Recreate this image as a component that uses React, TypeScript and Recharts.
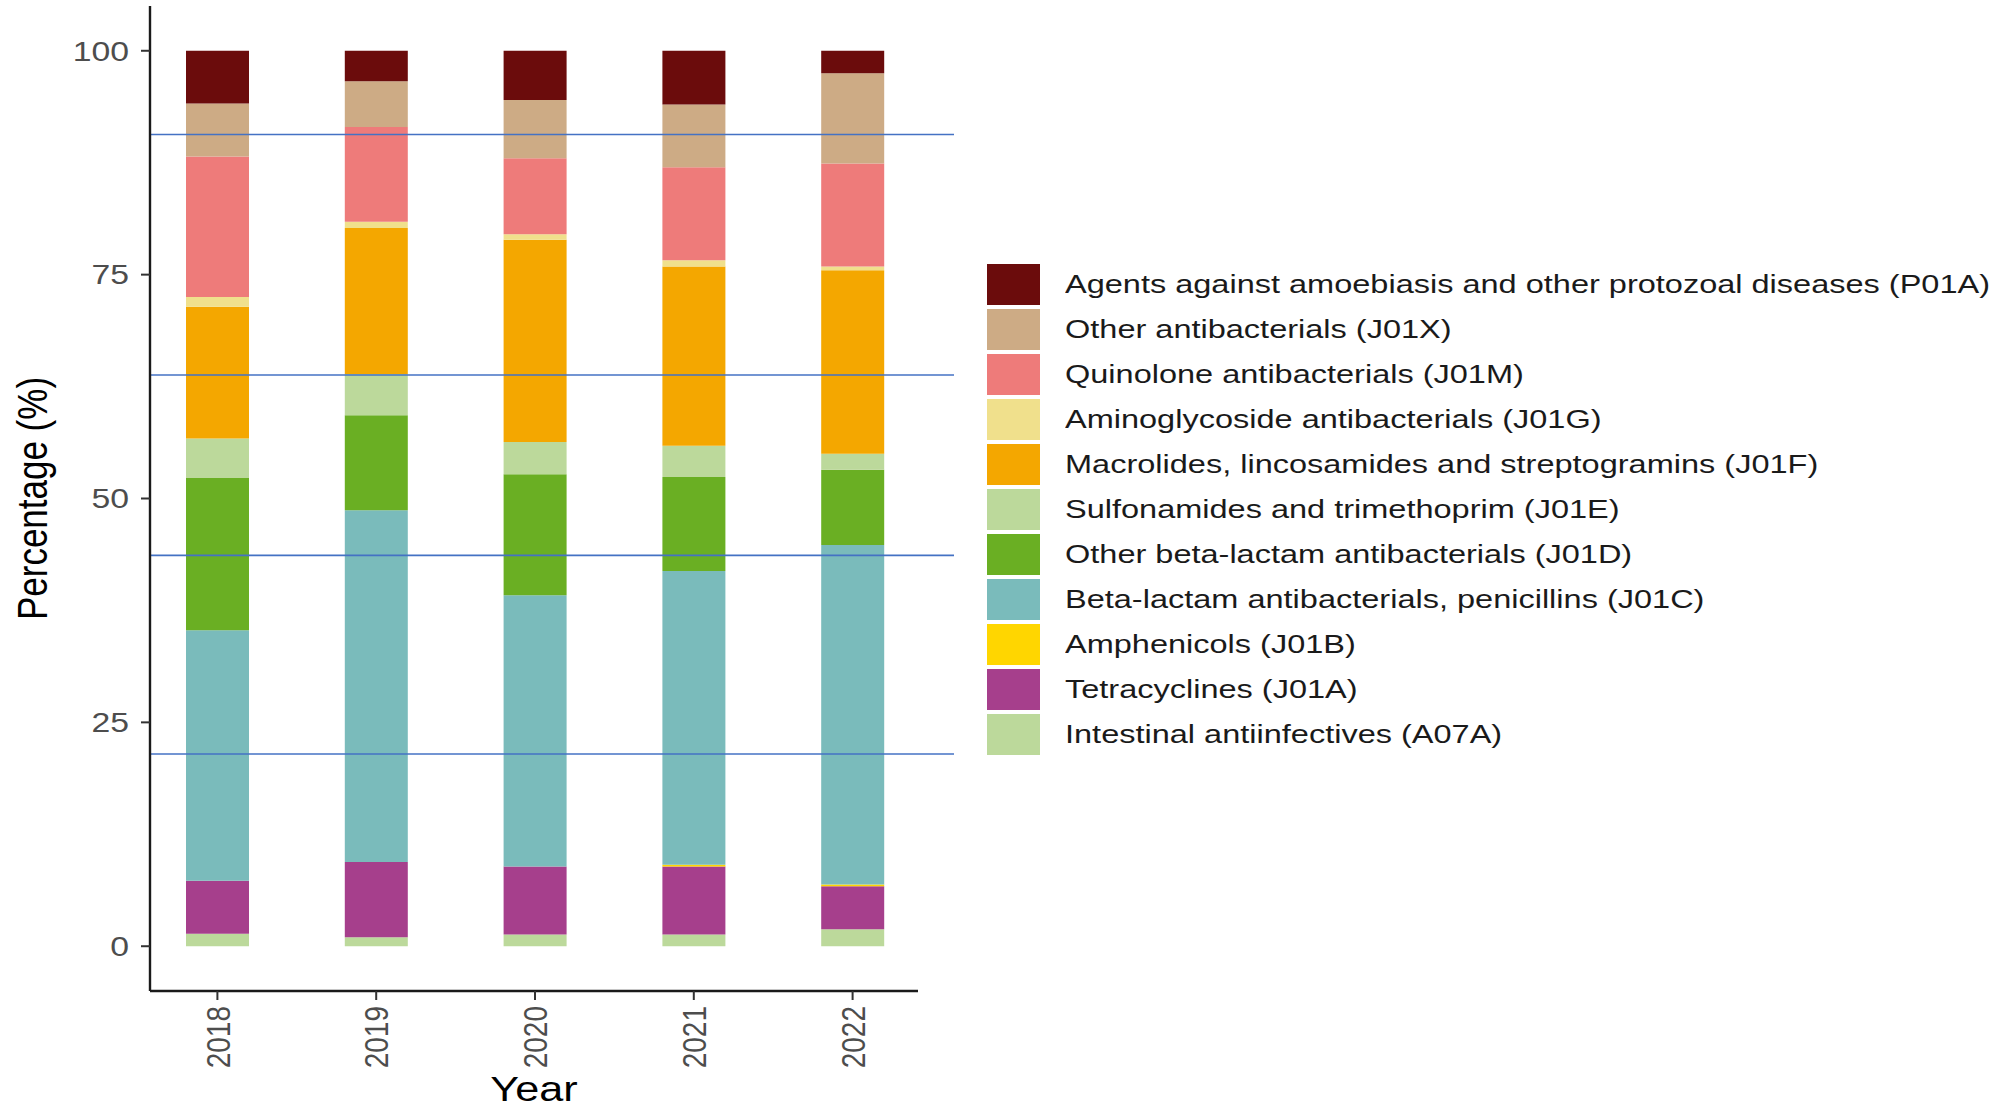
import React from "react";
import { BarChart, Bar, XAxis, YAxis, ReferenceLine } from "recharts";

// years on the x axis
const years = ["2018", "2019", "2020", "2021", "2022"];

// percentage per ATC group, one value per year (bottom of stack first)
const intestinalA07A = [1.4, 1.0, 1.3, 1.3, 1.9];
const tetracyclinesJ01A = [5.9, 8.4, 7.6, 7.6, 4.8];
const amphenicolsJ01B = [0, 0, 0, 0.2, 0.2];
const penicillinsJ01C = [28.0, 39.3, 30.3, 32.8, 37.9];
const otherBetaLactamJ01D = [17.0, 10.6, 13.5, 10.5, 8.4];
const sulfonamidesJ01E = [4.4, 4.6, 3.6, 3.5, 1.8];
const macrolidesJ01F = [14.7, 16.3, 22.6, 20.0, 20.5];
const aminoglycosidesJ01G = [1.1, 0.7, 0.6, 0.7, 0.4];
const quinolonesJ01M = [15.7, 10.6, 8.5, 10.4, 11.5];
const otherAntibacterialsJ01X = [5.9, 5.1, 6.5, 7.0, 10.1];
const protozoalP01A = [5.9, 3.4, 5.5, 6.0, 2.5];

const yTicks = [0, 25, 50, 75, 100];

// stray blue rules that cross the plot in the source figure
const blueRules = [90.65, 63.8, 43.65, 21.47];

const SERIES = [
  { key: "A07A", name: "Intestinal antiinfectives (A07A)", color: "#bcd99b", values: intestinalA07A },
  { key: "J01A", name: "Tetracyclines (J01A)", color: "#a63f8c", values: tetracyclinesJ01A },
  { key: "J01B", name: "Amphenicols (J01B)", color: "#ffd600", values: amphenicolsJ01B },
  { key: "J01C", name: "Beta-lactam antibacterials, penicillins (J01C)", color: "#7abbbb", values: penicillinsJ01C },
  { key: "J01D", name: "Other beta-lactam antibacterials (J01D)", color: "#6aaf23", values: otherBetaLactamJ01D },
  { key: "J01E", name: "Sulfonamides and trimethoprim (J01E)", color: "#bcd99b", values: sulfonamidesJ01E },
  { key: "J01F", name: "Macrolides, lincosamides and streptogramins (J01F)", color: "#f4a700", values: macrolidesJ01F },
  { key: "J01G", name: "Aminoglycoside antibacterials (J01G)", color: "#f0e08c", values: aminoglycosidesJ01G },
  { key: "J01M", name: "Quinolone antibacterials (J01M)", color: "#ee7b7a", values: quinolonesJ01M },
  { key: "J01X", name: "Other antibacterials (J01X)", color: "#cdab85", values: otherAntibacterialsJ01X },
  { key: "P01A", name: "Agents against amoebiasis and other protozoal diseases (P01A)", color: "#6b0c0c", values: protozoalP01A },
];

const data = years.map((year, i) => {
  const row: Record<string, string | number> = { year };
  SERIES.forEach(s => { row[s.key] = s.values[i]; });
  return row;
});

const FONT = "'Liberation Sans', Arial, sans-serif";

function YTick({ x, y, payload }: any) {
  return (
    <text
      transform={`translate(${x},${y}) scale(1.25,1)`}
      textAnchor="end"
      dy="0.36em"
      fill="#4d4d4d"
      fontSize={27}
      fontFamily={FONT}
    >
      {payload.value}
    </text>
  );
}

function XTick({ x, y, payload }: any) {
  return (
    <text
      transform={`translate(${x},${y}) rotate(-90) scale(1,1.2)`}
      textAnchor="end"
      dy="0.36em"
      fill="#4d4d4d"
      fontSize={28}
      fontFamily={FONT}
    >
      {payload.value}
    </text>
  );
}

// the rules run a little past the end of the x axis
function BlueRule(props: any) {
  const { x1, y1, x2, y2 } = props;
  return <line x1={x1} y1={y1} x2={x2 + 36} y2={y2} stroke="#4472c4" strokeWidth={1.6} />;
}

export default function App() {
  return (
    <div style={{ position: "fixed", left: 0, top: 0, width: 2007, height: 1109, background: "#fff" }}>
      <BarChart
        width={2007}
        height={1109}
        data={data}
        margin={{ top: 6, right: 1089, bottom: 0, left: 70 }}
        barSize={63}
      >
        <XAxis
          dataKey="year"
          padding={{ left: -12, right: -14 }}
          axisLine={{ stroke: "#1a1a1a", strokeWidth: 2.4 }}
          tickLine={{ stroke: "#333", strokeWidth: 2 }}
          tickSize={9}
          tickMargin={6}
          tick={<XTick />}
          height={118}
          interval={0}
          label={{
            content: ({ viewBox }: any) => (
              <text
                transform={`translate(${viewBox.x + viewBox.width / 2},1101) scale(1.2,1)`}
                textAnchor="middle"
                fill="#000"
                fontSize={36}
                fontFamily={FONT}
              >
                Year
              </text>
            ),
          }}
        />
        <YAxis
          type="number"
          domain={[-5, 105]}
          ticks={yTicks}
          width={80}
          axisLine={{ stroke: "#1a1a1a", strokeWidth: 2.4 }}
          tickLine={{ stroke: "#333", strokeWidth: 2 }}
          tickSize={9}
          tickMargin={12}
          tick={<YTick />}
          label={{
            content: ({ viewBox }: any) => (
              <text
                transform={`translate(47,${viewBox.y + viewBox.height / 2}) rotate(-90) scale(1,1.2)`}
                textAnchor="middle"
                fill="#000"
                fontSize={35}
                fontFamily={FONT}
              >
                Percentage (%)
              </text>
            ),
          }}
        />
        {SERIES.map(s => (
          <Bar key={s.key} dataKey={s.key} name={s.name} stackId="a" fill={s.color} isAnimationActive={false} />
        ))}
        {blueRules.map(v => (
          <ReferenceLine key={v} y={v} shape={<BlueRule />} ifOverflow="visible" />
        ))}
      </BarChart>
      <div style={{ position: "absolute", left: 987, top: 262, fontFamily: FONT }}>
        {[...SERIES].reverse().map(s => (
          <div key={s.key} style={{ display: "flex", alignItems: "center", height: 45 }}>
            <div style={{ width: 53, height: 40.5, background: s.color, flexShrink: 0 }} />
            <div
              style={{
                marginLeft: 25,
                fontSize: 26,
                color: "#1a1a1a",
                whiteSpace: "nowrap",
                transform: "scaleX(1.25)",
                transformOrigin: "left center",
              }}
            >
              {s.name}
            </div>
          </div>
        ))}
      </div>
    </div>
  );
}
